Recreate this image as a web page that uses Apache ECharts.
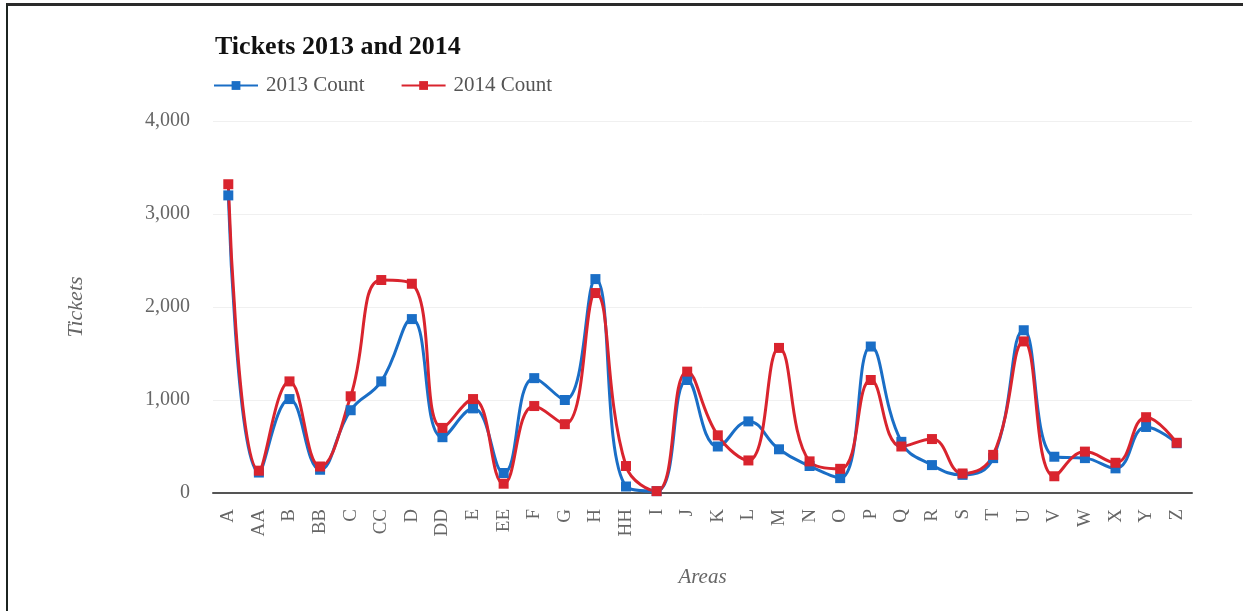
<!DOCTYPE html>
<html>
<head>
<meta charset="utf-8">
<script src="https://cdn.jsdelivr.net/npm/echarts@6/dist/echarts.min.js"></script>
<style>
  html, body { margin: 0; padding: 0; background: #fff; }
  #frame {
    position: absolute; left: 6px; top: 3px; width: 1237px; height: 608px;
    border-left: 2px solid #1c2420; border-top: 3px solid #2a2a2a; box-sizing: border-box;
  }
  #chart { width: 1243px; height: 611px; }
</style>
</head>
<body>
<div id="frame"></div>
<div id="chart"></div>
<script>
// areas on the x axis
let areas = ["A","AA","B","BB","C","CC","D","DD","E","EE","F","G","H","HH","I","J","K","L","M","N","O","P","Q","R","S","T","U","V","W","X","Y","Z"]
// ticket counts
let count2013 = [3200,220,1010,250,890,1200,1870,600,910,215,1235,1000,2300,70,20,1215,500,770,470,290,160,1575,550,300,195,375,1750,390,375,265,710,535]
let count2014 = [3320,240,1200,285,1040,2290,2250,700,1010,100,935,740,2150,290,20,1305,620,350,1560,340,260,1215,500,580,210,410,1630,180,445,325,815,540]
let yTicks = [0,1000,2000,3000,4000]

let serif = "Liberation Serif"
let myChart = echarts.init(document.getElementById("chart"))

myChart.setOption({
  animation: false,
  title: {
    text: "Tickets 2013 and 2014",
    left: 210,
    top: 29,
    textStyle: { fontFamily: serif, fontSize: 26, fontWeight: "bold", color: "#111" }
  },
  legend: {
    left: 208,
    top: 70,
    itemWidth: 44,
    itemHeight: 11,
    itemGap: 36,
    textStyle: { fontFamily: serif, fontSize: 21, color: "#555", padding: [0, 0, 0, 3] },
    data: ["2013 Count", "2014 Count"]
  },
  grid: { left: 213, right: 51, top: 121, bottom: 118 },
  xAxis: {
    type: "category",
    data: areas,
    name: "Areas",
    nameLocation: "middle",
    nameGap: 74,
    nameTextStyle: { fontFamily: serif, fontStyle: "italic", fontSize: 21, color: "#666" },
    axisLine: { lineStyle: { color: "#555", width: 2 } },
    axisTick: { show: false },
    axisLabel: {
      rotate: 90,
      interval: 0,
      margin: 16,
      fontFamily: serif,
      fontSize: 19,
      color: "#666"
    }
  },
  yAxis: {
    type: "value",
    min: yTicks[0],
    max: yTicks[yTicks.length - 1],
    interval: 1000,
    name: "Tickets",
    nameLocation: "middle",
    nameGap: 126,
    nameTextStyle: { fontFamily: serif, fontStyle: "italic", fontSize: 22, color: "#666" },
    axisLine: { show: false },
    axisTick: { show: false },
    splitLine: { lineStyle: { color: "#f0f0f0" } },
    axisLabel: {
      margin: 23,
      fontFamily: serif,
      fontSize: 20,
      color: "#666",
      formatter: (v) => v.toLocaleString("en-US")
    }
  },
  series: [
    {
      name: "2013 Count",
      type: "line",
      data: count2013,
      smooth: 0.45,
      symbol: "rect",
      symbolSize: 10,
      itemStyle: { color: "#1a6ec6" },
      lineStyle: { width: 3, color: "#1a6ec6" }
    },
    {
      name: "2014 Count",
      type: "line",
      data: count2014,
      smooth: 0.45,
      symbol: "rect",
      symbolSize: 10,
      itemStyle: { color: "#d9242e" },
      lineStyle: { width: 3, color: "#d9242e" }
    }
  ]
})
</script>
</body>
</html>
